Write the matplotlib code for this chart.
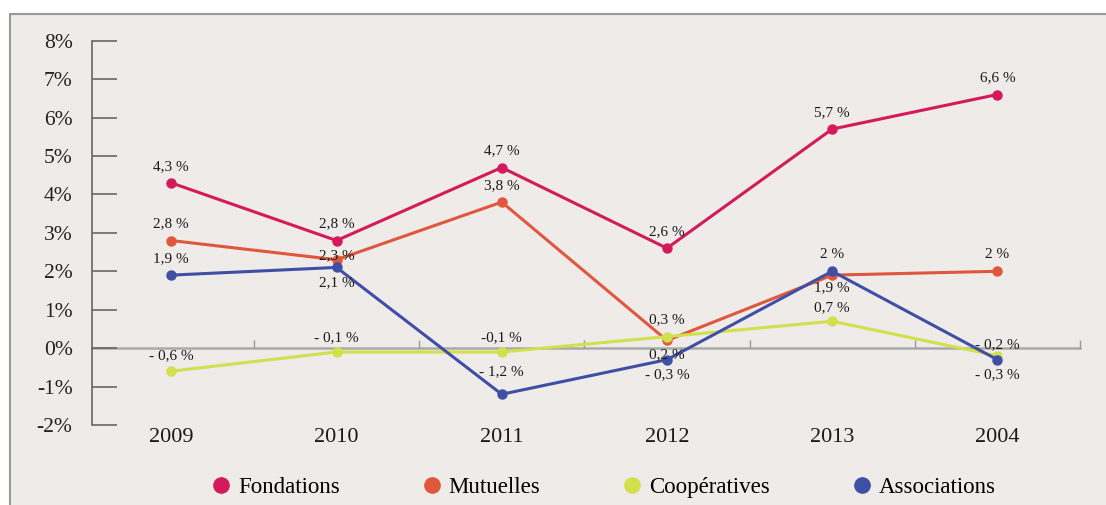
import numpy as np
import matplotlib.pyplot as plt
from matplotlib.patches import Rectangle
from matplotlib.lines import Line2D

# Data
years = ['2009', '2010', '2011', '2012', '2013', '2004']
fondations = [4.3, 2.8, 4.7, 2.6, 5.7, 6.6]
mutuelles = [2.8, 2.3, 3.8, 0.2, 1.9, 2.0]
cooperatives = [-0.6, -0.1, -0.1, 0.3, 0.7, -0.2]
associations = [1.9, 2.1, -1.2, -0.3, 2.0, -0.3]
labels_fond = ['4,3 %', '2,8 %', '4,7 %', '2,6 %', '5,7 %', '6,6 %']
labels_mut = ['2,8 %', '2,3 %', '3,8 %', '0,2 %', '1,9 %', '2 %']
labels_coop = ['- 0,6 %', '- 0,1 %', '-0,1 %', '0,3 %', '0,7 %', '- 0,2 %']
labels_asso = ['1,9 %', '2,1 %', '- 1,2 %', '- 0,3 %', '2 %', '- 0,3 %']
yticks = [-2, -1, 0, 1, 2, 3, 4, 5, 6, 7, 8]

c_fond = '#d41a5c'
c_mut = '#e0573d'
c_coop = '#d2e04c'
c_asso = '#3f4fa5'
bg = '#eeebe9'
serif = ['Liberation Serif', 'DejaVu Serif']

fig = plt.figure(figsize=(11.06, 5.05), dpi=100)
fig.patch.set_facecolor('white')
# background panel with grey frame
fig.patches.append(Rectangle((10/1106, -0.1), 1.1, (505-14)/505 + 0.1,
                             transform=fig.transFigure, facecolor=bg,
                             edgecolor='#999999', linewidth=1.5, zorder=-10))

ax = fig.add_axes([92/1106, 1-425/505, (1080-92)/1106, (425-40.7)/505])
ax.set_facecolor('none')
x = np.arange(len(years))

# label offsets in points (vertical)
series = [
    (fondations, c_fond, labels_fond, [12, 12, 12, 12, 12, 12]),
    (mutuelles, c_mut, labels_mut, [12, 3, 12, -10, -9, 12]),
    (cooperatives, c_coop, labels_coop, [11, 10, 10, 12, 10, 8]),
    (associations, c_asso, labels_asso, [12, -11, 16, -11, 12, -11]),
]
for vals, col, labs, offs in series:
    ax.plot(x, vals, color=col, lw=2.2, marker='o', ms=6.5, zorder=3)
    for xi, v, lab, dy in zip(x, vals, labs, offs):
        ax.annotate(lab, (xi, v), xytext=(0, dy), textcoords='offset points',
                    ha='center', va='center', fontsize=11, family=serif,
                    color='#1a1a1a', zorder=4)

ax.set_xlim(-0.48, 5.5)
ax.set_ylim(-2, 8)

for s in ['top', 'right']:
    ax.spines[s].set_visible(False)
ax.spines['left'].set_color('#666666')
ax.spines['left'].set_linewidth(1.2)
ax.spines['bottom'].set_position(('data', 0))
ax.spines['bottom'].set_color('#aaaaaa')
ax.spines['bottom'].set_linewidth(1.8)
ax.spines['bottom'].set_zorder(1)

ax.set_yticks(yticks)
ax.set_yticklabels([f'{t}%' for t in yticks], family=serif, fontsize=15.5, color='#222222')
ax.tick_params(axis='y', direction='in', length=18, width=1.2, color='#666666', pad=14)
ax.set_xticks(np.arange(0.5, 6, 1))
ax.set_xticklabels([])
ax.tick_params(axis='x', direction='in', length=6, width=1, color='#999999')

for xi, yr in zip(x, years):
    ax.text(xi, -2.32, yr, ha='center', va='center', fontsize=16, family=serif,
            color='#1a1a1a')

handles = [Line2D([], [], ls='none', marker='o', ms=11, color=c)
           for c in [c_fond, c_mut, c_coop, c_asso]]
fig.legend(handles, ['Fondations', 'Mutuelles', 'Coopératives', 'Associations'],
           loc='center', bbox_to_anchor=(0.545, 1-487/505), ncol=4, frameon=False,
           prop={'family': serif, 'size': 16.5}, columnspacing=3.5,
           handletextpad=0.25, handlelength=1.0)

fig.savefig('out.png', dpi=100)
